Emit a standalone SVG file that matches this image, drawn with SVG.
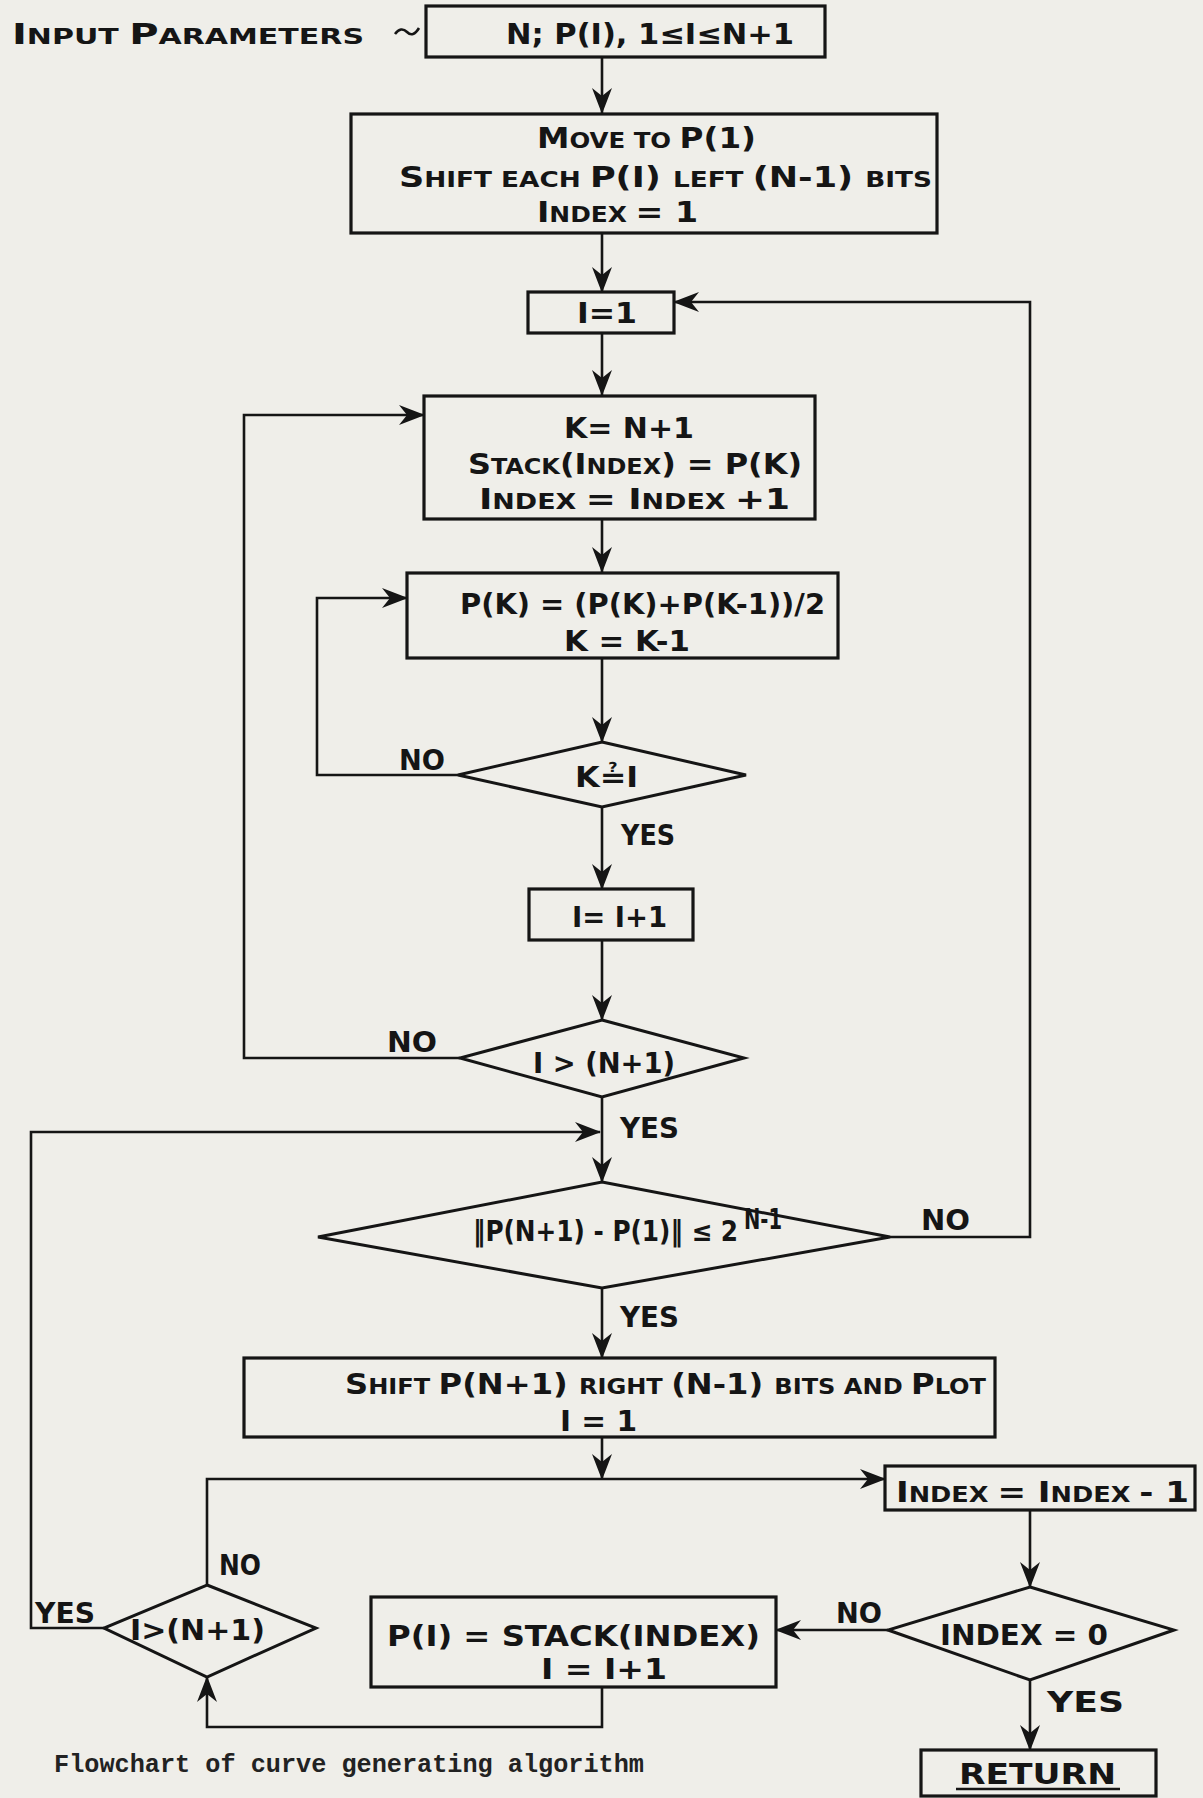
<svg xmlns="http://www.w3.org/2000/svg" width="1203" height="1798" viewBox="0 0 1203 1798">
<style>
.bg{fill:#efeee9}
.box{fill:none;stroke:#151515;stroke-width:3.2}
.dia{fill:none;stroke:#151515;stroke-width:3}
.ln{fill:none;stroke:#151515;stroke-width:2.6;stroke-linejoin:miter}
.arr{marker-end:url(#ah)}
.t{font-family:"Liberation Sans Narrow","DejaVu Sans Condensed","Liberation Sans",sans-serif;font-size:28px;font-weight:bold;fill:#151515}
.s{font-size:21px}
.m{font-family:"DejaVu Sans Condensed","DejaVu Sans",sans-serif}
.cap{font-family:"Liberation Mono","DejaVu Sans Mono",monospace;font-size:25px;font-weight:bold;fill:#222}
</style>
<defs>
<marker id="ah" viewBox="0 0 26 20" refX="25" refY="10" markerWidth="26" markerHeight="20" markerUnits="userSpaceOnUse" orient="auto">
<path d="M0,0 L26,10 L0,20 L8,10 Z" fill="#151515"/>
</marker>
</defs>
<rect class="bg" x="0" y="0" width="1203" height="1798"/>

<g id="connectors">
<path class="ln arr" d="M602,57 V113"/>
<path class="ln arr" d="M602,233 V292"/>
<path class="ln arr" d="M602,333 V395"/>
<path class="ln arr" d="M602,519 V572"/>
<path class="ln arr" d="M602,658 V742"/>
<path class="ln arr" d="M458,775 H317 V598 H407"/>
<path class="ln arr" d="M602,807 V889"/>
<path class="ln arr" d="M602,940 V1020"/>
<path class="ln arr" d="M460,1058 H244 V415 H424"/>
<path class="ln arr" d="M602,1098 V1182"/>
<path class="ln arr" d="M890,1237 H1030 V302 H674"/>
<path class="ln arr" d="M602,1288 V1358"/>
<path class="ln arr" d="M602,1437 V1479"/>
<path class="ln arr" d="M207,1585 V1479 H885"/>
<path class="ln arr" d="M1030,1510 V1587"/>
<path class="ln arr" d="M888,1630 H776"/>
<path class="ln arr" d="M1030,1680 V1750"/>
<path class="ln arr" d="M602,1687 V1727 H207 V1677"/>
<path class="ln arr" d="M104,1628 H31 V1132 H600"/>
</g>

<g id="labels">
<text class="t" x="12" y="44" textLength="352" lengthAdjust="spacingAndGlyphs" font-size="32"><tspan>I</tspan><tspan class="s">NPUT </tspan><tspan>P</tspan><tspan class="s">ARAMETERS</tspan></text>
<path class="ln" d="M395,34 q6,-8 12,-2 t12,-4"/>
<text class="t" x="399" y="770" textLength="46" lengthAdjust="spacingAndGlyphs">NO</text>
<text class="t" x="621" y="845" textLength="54" lengthAdjust="spacingAndGlyphs">YES</text>
<text class="t" x="387" y="1052" textLength="50" lengthAdjust="spacingAndGlyphs">NO</text>
<text class="t" x="620" y="1138" textLength="59" lengthAdjust="spacingAndGlyphs">YES</text>
<text class="t" x="921" y="1230" textLength="49" lengthAdjust="spacingAndGlyphs">NO</text>
<text class="t" x="620" y="1327" textLength="59" lengthAdjust="spacingAndGlyphs">YES</text>
<text class="t" x="219" y="1575" textLength="42" lengthAdjust="spacingAndGlyphs">NO</text>
<text class="t" x="35" y="1623" textLength="60" lengthAdjust="spacingAndGlyphs">YES</text>
<text class="t" x="836" y="1623" textLength="46" lengthAdjust="spacingAndGlyphs">NO</text>
<text class="t" x="1047" y="1712" textLength="77" lengthAdjust="spacingAndGlyphs" font-size="32">YES</text>
<text class="cap" x="54" y="1772" textLength="590" lengthAdjust="spacingAndGlyphs">Flowchart of curve generating algorithm</text>
</g>

<g id="n-input">
<rect class="box" x="426" y="6" width="399" height="51"/>
<text class="t" x="506" y="44" textLength="288" lengthAdjust="spacingAndGlyphs">N; P(I), 1≤I≤N+1</text>
</g>

<g id="n-init">
<rect class="box" x="351" y="114" width="586" height="119"/>
<text class="t" x="537" y="148" textLength="219" lengthAdjust="spacingAndGlyphs"><tspan>M</tspan><tspan class="s">OVE TO </tspan><tspan>P(1)</tspan></text>
<text class="t" x="399" y="187" textLength="533" lengthAdjust="spacingAndGlyphs"><tspan>S</tspan><tspan class="s">HIFT EACH </tspan><tspan>P(I) </tspan><tspan class="s">LEFT </tspan><tspan>(N-1) </tspan><tspan class="s">BITS</tspan></text>
<text class="t" x="537" y="222" textLength="161" lengthAdjust="spacingAndGlyphs"><tspan>I</tspan><tspan class="s">NDEX </tspan><tspan>= 1</tspan></text>
</g>

<g id="n-i1">
<rect class="box" x="528" y="292" width="146" height="41"/>
<text class="t" x="577" y="323" textLength="60" lengthAdjust="spacingAndGlyphs">I=1</text>
</g>

<g id="n-stack">
<rect class="box" x="424" y="396" width="391" height="123"/>
<text class="t" x="564" y="438" textLength="130" lengthAdjust="spacingAndGlyphs">K= N+1</text>
<text class="t" x="468" y="474" textLength="334" lengthAdjust="spacingAndGlyphs"><tspan>S</tspan><tspan class="s">TACK</tspan><tspan>(I</tspan><tspan class="s">NDEX</tspan><tspan>) = P(K)</tspan></text>
<text class="t" x="479" y="509" textLength="311" lengthAdjust="spacingAndGlyphs"><tspan>I</tspan><tspan class="s">NDEX </tspan><tspan>= I</tspan><tspan class="s">NDEX </tspan><tspan>+1</tspan></text>
</g>

<g id="n-avg">
<rect class="box" x="407" y="573" width="431" height="85"/>
<text class="t" x="460" y="614" textLength="365" lengthAdjust="spacingAndGlyphs">P(K) = (P(K)+P(K-1))/2</text>
<text class="t" x="564" y="651" textLength="126" lengthAdjust="spacingAndGlyphs">K = K-1</text>
</g>

<g id="d-k">
<polygon class="dia" points="602,742 746,775 602,807 458,775"/>
<text class="t" x="575" y="787" textLength="63" lengthAdjust="spacingAndGlyphs" font-size="32"><tspan>K</tspan><tspan class="m">≟</tspan><tspan>I</tspan></text>
</g>

<g id="n-inc">
<rect class="box" x="529" y="889" width="164" height="51"/>
<text class="t" x="572" y="927" textLength="95" lengthAdjust="spacingAndGlyphs">I= I+1</text>
</g>

<g id="d-i">
<polygon class="dia" points="602,1020 744,1058 602,1097 460,1058"/>
<text class="t" x="533" y="1073" textLength="142" lengthAdjust="spacingAndGlyphs" font-size="30">I &gt; (N+1)</text>
</g>

<g id="d-norm">
<polygon class="dia" points="602,1182 890,1237 602,1288 318,1237"/>
<text class="t" x="473" y="1241" textLength="265" lengthAdjust="spacingAndGlyphs" font-size="30">‖P(N+1) - P(1)‖ ≤ 2</text>
<text class="t" x="744" y="1229" font-size="20" textLength="38" lengthAdjust="spacingAndGlyphs">N-1</text>
</g>

<g id="n-plot">
<rect class="box" x="244" y="1358" width="751" height="79"/>
<text class="t" x="345" y="1394" textLength="641" lengthAdjust="spacingAndGlyphs"><tspan>S</tspan><tspan class="s">HIFT </tspan><tspan>P(N+1) </tspan><tspan class="s">RIGHT </tspan><tspan>(N-1) </tspan><tspan class="s">BITS AND </tspan><tspan>P</tspan><tspan class="s">LOT</tspan></text>
<text class="t" x="560" y="1431" textLength="77" lengthAdjust="spacingAndGlyphs">I = 1</text>
</g>

<g id="n-dec">
<rect class="box" x="885" y="1466" width="310" height="44"/>
<text class="t" x="896" y="1502" textLength="293" lengthAdjust="spacingAndGlyphs"><tspan>I</tspan><tspan class="s">NDEX </tspan><tspan>= I</tspan><tspan class="s">NDEX </tspan><tspan>- 1</tspan></text>
</g>

<g id="d-zero">
<polygon class="dia" points="1030,1587 1174,1630 1030,1680 888,1630"/>
<text class="t" x="940" y="1645" textLength="168" lengthAdjust="spacingAndGlyphs">INDEX = 0</text>
</g>

<g id="n-pop">
<rect class="box" x="371" y="1597" width="405" height="90"/>
<text class="t" x="387" y="1646" textLength="373" lengthAdjust="spacingAndGlyphs" font-size="30">P(I) = STACK(INDEX)</text>
<text class="t" x="541" y="1679" textLength="126" lengthAdjust="spacingAndGlyphs" font-size="30">I = I+1</text>
</g>

<g id="d-end">
<polygon class="dia" points="207,1585 316,1628 207,1677 104,1628"/>
<text class="t" x="130" y="1640" textLength="135" lengthAdjust="spacingAndGlyphs" font-size="30">I&gt;(N+1)</text>
</g>

<g id="n-return">
<rect class="box" x="921" y="1750" width="235" height="46"/>
<text class="t" x="959" y="1784" textLength="157" lengthAdjust="spacingAndGlyphs" font-size="30">RETURN</text>
<path class="ln" d="M956,1789 H1120"/>
</g>
</svg>
